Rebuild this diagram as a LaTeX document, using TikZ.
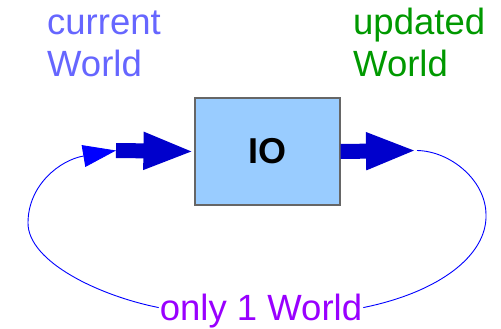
\documentclass[tikz,border=0pt]{standalone}
\usepackage{fontspec}
\setmainfont{Liberation Sans}
\usetikzlibrary{arrows.meta,calc}
\definecolor{curcol}{HTML}{6666FF}
\definecolor{updcol}{HTML}{009900}
\definecolor{onecol}{HTML}{9900FF}
\definecolor{iofill}{HTML}{99CCFF}
\definecolor{thickcol}{HTML}{0000CC}
\definecolor{thincol}{HTML}{0000FF}
\begin{document}
\begin{tikzpicture}[x=1pt,y=-1pt,
  lbl/.style={inner sep=0pt, anchor=base west, font=\fontsize{36.5}{42}\selectfont, align=left},
  iobox/.style={draw=black!60, line width=1.2pt, fill=iofill, minimum width=145pt, minimum height=107pt, inner sep=0pt, font=\fontsize{36}{42}\selectfont\bfseries},
  fat/.style={thickcol, line width=15pt, -{Triangle[length=51pt,width=34pt]}},
  loopline/.style={thincol, line width=0.9pt, -{Triangle[length=33pt,width=22pt]}},
  plainloop/.style={thincol, line width=0.9pt}
]
\useasboundingbox (0,0) rectangle (501,329);
\node[iobox] (io) at (267.5,151.5) {\raisebox{-3pt}{IO}};
\node[lbl, text=curcol] (cur) at (47,77) {current\\World};
\node[lbl, text=updcol] (upd) at (353,77) {updated\\World};
\node[inner sep=0pt, anchor=base, text=onecol, font=\fontsize{36.5}{42}\selectfont] (one) at (261,320) {only 1 World};
\coordinate (lstart) at (116,150.5);
\coordinate (rtip) at (417,150.5);
\draw[fat] (lstart) -- (io.west);
\draw[fat] (io.east) -- (rtip);
\draw[loopline] ($(one.west)+(-1,-3)$) .. controls (100,296) and (28,262) .. (28,223) .. controls (28,185) and (60,160) .. (lstart);
\draw[plainloop] (rtip) .. controls (450,151) and (486,180) .. (486,215) .. controls (487,255) and (440,292) .. ($(one.east)+(1,-3)$);
\end{tikzpicture}
\end{document}
